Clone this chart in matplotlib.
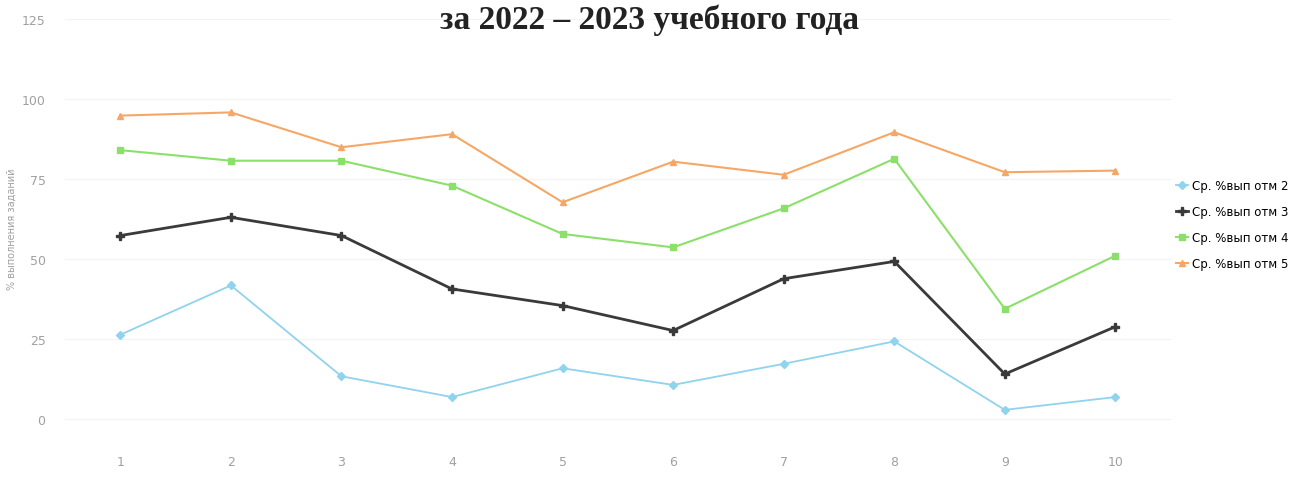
import matplotlib
matplotlib.use("Agg")
import matplotlib.pyplot as plt

# номера заданий
tasks = [1, 2, 3, 4, 5, 6, 7, 8, 9, 10]
tick_labels = ["1", "2", "3", "4", "5", "6", "7", "8", "9", "10"]

# средний % выполнения по отметкам
otm2 = [26.3, 41.7, 13.3, 6.8, 15.8, 10.6, 17.2, 24.2, 2.8, 6.8]
otm3 = [57.3, 63.0, 57.3, 40.6, 35.4, 27.6, 43.8, 49.2, 14.0, 28.8]
otm4 = [84.0, 80.7, 80.7, 72.9, 57.8, 53.6, 65.8, 81.3, 34.4, 51.0]
otm5 = [94.8, 95.8, 84.9, 89.0, 67.7, 80.4, 76.3, 89.6, 77.1, 77.6]

series_names = ["Ср. %вып отм 2", "Ср. %вып отм 3", "Ср. %вып отм 4", "Ср. %вып отм 5"]

fig = plt.figure(figsize=(13.09, 4.81), dpi=100)
ax = fig.add_axes([0.0497, 0.0873, 0.8446, 0.8711])

ax.plot(tasks, otm2, color="#8fd3ec", linewidth=1.3, marker="D", markersize=4, label=series_names[0])
ax.plot(tasks, otm3, color="#3a3a3a", linewidth=2.0, marker="P", markersize=6, label=series_names[1])
ax.plot(tasks, otm4, color="#8be06a", linewidth=1.5, marker="s", markersize=5, label=series_names[2])
ax.plot(tasks, otm5, color="#f6a766", linewidth=1.5, marker="^", markersize=5, label=series_names[3])

ax.set_xlim(0.5, 10.5)
ax.set_ylim(-6, 125)
ax.set_yticks([0, 25, 50, 75, 100, 125])
ax.set_xticks(tasks)
ax.set_xticklabels(tick_labels)
ax.tick_params(axis="both", length=0, labelsize=9, colors="#a0a0a0")
ax.tick_params(axis="x", pad=12)
ax.tick_params(axis="y", pad=14)
ax.grid(axis="y", color="#f3f3f3", linewidth=0.8)
for s in ax.spines.values():
    s.set_visible(False)
ax.set_ylabel("% выполнения заданий", fontsize=7, color="#a0a0a0", labelpad=4)

ax.legend(loc="center left", bbox_to_anchor=(0.995, 0.51), frameon=False,
          prop={"family": ["Liberation Sans Narrow", "DejaVu Sans"], "size": 8.5},
          handlelength=1.0, handletextpad=0.4, labelspacing=1.1)

# заголовок у самого верхнего края
fig.text(0.4965, 0.94, "за 2022 – 2023 учебного года", ha="center", va="baseline",
         fontsize=24, fontweight="bold", family="Liberation Serif", color="#222222")

fig.savefig("out.png", dpi=100)
